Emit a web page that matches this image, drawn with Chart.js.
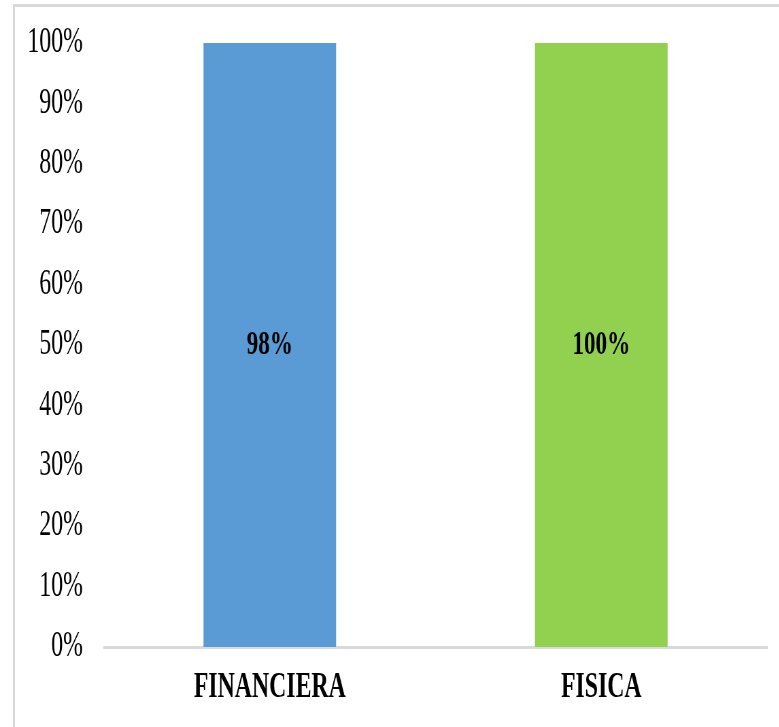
<!DOCTYPE html>
<html>
<head>
<meta charset="utf-8">
<script src="https://cdn.jsdelivr.net/npm/chart.js@4/dist/chart.umd.min.js"></script>
<style>
  html, body { margin: 0; padding: 0; background: #fff; overflow: hidden; }
  /* the source image is squeezed sideways, so the chart is drawn wide and scaled down */
  #wrap { position: absolute; left: 0; top: 0; width: 1146px; height: 727px; transform: scaleX(0.68); transform-origin: 0 0; }
  #frame { position: absolute; left: 13px; top: 4px; width: 800px; height: 800px;
           border-left: 2px solid #d9d9d9; border-top: 3px solid #d9d9d9; pointer-events: none; }
</style>
</head>
<body>
<div id="wrap"><canvas id="chart1"></canvas></div>
<div id="frame"></div>
<script>
const categories = ["FINANCIERA", "FISICA"];
const avance = [0.98, 1.00];          // label values
const barColors = ["#5b9bd5", "#92d050"];
const yTicks = [0, 0.1, 0.2, 0.3, 0.4, 0.5, 0.6, 0.7, 0.8, 0.9, 1];

// 100% stacked column: each bar is its share of the category total (one series)
const categoryTotals = avance.map(v => v);
const shares = avance.map((v, i) => v / categoryTotals[i]);

const fontFamily = "'Liberation Serif', 'Times New Roman', serif";

const barLabels = {
  id: 'barLabels',
  afterDatasetsDraw(chart) {
    const ctx = chart.ctx;
    const meta = chart.getDatasetMeta(0);
    ctx.save();
    ctx.font = "bold 34px " + fontFamily;
    ctx.fillStyle = "#000";
    ctx.textAlign = "center";
    ctx.textBaseline = "middle";
    meta.data.forEach((bar, i) => {
      const text = Math.round(avance[i] * 100) + "%";
      ctx.fillText(text, bar.x, (bar.y + bar.base) / 2);
    });
    ctx.restore();
  }
};

const data = {
  labels: categories,
  datasets: [
    {
      label: "Avance",
      data: shares,
      backgroundColor: barColors,
      borderWidth: 0,
      barPercentage: 0.4,
      categoryPercentage: 1,
    },
  ]
};

const config = {
  type: "bar",
  data: data,
  plugins: [barLabels],
  options: {
    responsive: true,
    maintainAspectRatio: false,
    animation: false,
    layout: {
      padding: { left: 21, right: 18, top: 43, bottom: 0 },
    },
    plugins: {
      legend: { display: false },
      tooltip: { enabled: false },
      title: { display: false },
    },
    scales: {
      x: {
        grid: { display: false, drawTicks: false },
        border: { display: true, color: "#d9d9d9", width: 3 },
        ticks: {
          color: "#000",
          padding: 20,
          font: { family: fontFamily, size: 35, weight: "bold" },
        },
        afterFit: (scale) => { scale.height = 80; },
      },
      y: {
        min: 0,
        max: 1,
        grid: { display: false, drawTicks: false },
        border: { display: false },
        afterBuildTicks: (scale) => { scale.ticks = yTicks.map(v => ({ value: v })); },
        ticks: {
          color: "#000",
          padding: 31,
          font: { family: fontFamily, size: 35 },
          callback: (v) => Math.round(v * 100) + "%",
        },
        afterFit: (scale) => {
          scale.width = 132;
          // tick padding is meant sideways only, not above/below the axis
          scale.paddingTop = 21;
          scale.paddingBottom = 21;
        },
      },
    },
  }
};

const myChart1 = new Chart(document.getElementById("chart1"), config);
</script>
</body>
</html>
